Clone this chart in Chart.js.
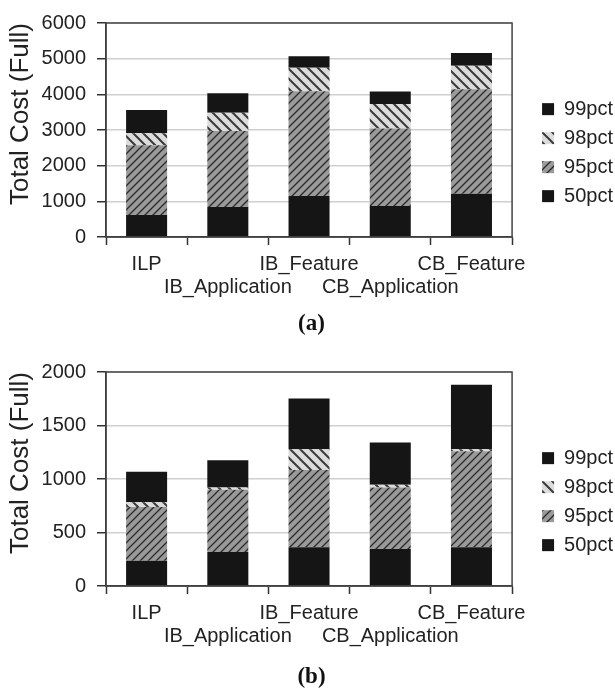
<!DOCTYPE html>
<html>
<head>
<meta charset="utf-8">
<script src="https://cdn.jsdelivr.net/npm/chart.js@4.4.1/dist/chart.umd.min.js"></script>
<style>
  body { margin: 0; background: #fff; }
  canvas { display: block; }
</style>
</head>
<body>
<canvas id="chartA" width="615" height="349"></canvas>
<canvas id="chartB" width="615" height="342"></canvas>
<script>
const categories = ['ILP', 'IB_Application', 'IB_Feature', 'CB_Application', 'CB_Feature'];
const seriesNames = ['50pct', '95pct', '98pct', '99pct'];

// (a) segment heights, stacked bottom to top
const aP50 = [620, 840, 1150, 870, 1210];
const aP95 = [1955, 2135, 2935, 2170, 2930];
const aP98 = [335, 510, 660, 690, 660];
const aP99 = [650, 545, 325, 350, 360];

// (b) segment heights
const bP50 = [235, 317, 363, 345, 363];
const bP95 = [503, 582, 722, 575, 896];
const bP98 = [45, 21, 192, 27, 18];
const bP99 = [284, 256, 475, 394, 604];

const aMax = 6000, aStep = 1000;
const bMax = 2000, bStep = 500;

Chart.defaults.font.family = '"Liberation Sans", Arial, sans-serif';

// hatch fills
function hatch(size, bg, fg, width, forward) {
  const tile = document.createElement('canvas');
  tile.width = size;
  tile.height = size;
  const c = tile.getContext('2d');
  c.fillStyle = bg;
  c.fillRect(0, 0, size, size);
  c.strokeStyle = fg;
  c.lineWidth = width;
  c.beginPath();
  if (forward) {
    c.moveTo(0, size); c.lineTo(size, 0);
    c.moveTo(-2, 2); c.lineTo(2, -2);
    c.moveTo(size - 2, size + 2); c.lineTo(size + 2, size - 2);
  } else {
    c.moveTo(0, 0); c.lineTo(size, size);
    c.moveTo(size - 2, -2); c.lineTo(size + 2, 2);
    c.moveTo(-2, size - 2); c.lineTo(2, size + 2);
  }
  c.stroke();
  return c.createPattern(tile, 'repeat');
}

const black = '#151515';
const fill95 = hatch(8, '#9a9a9a', '#2a2a2a', 1.3, true);
const fill98 = hatch(10, '#dcdcdc', '#3a3a3a', 2, false);
const fills = [black, fill95, fill98, black];

const frame = {
  id: 'frame',
  afterDraw(chart) {
    const { ctx, chartArea: a } = chart;
    ctx.save();
    ctx.strokeStyle = '#444';
    ctx.lineWidth = 1.5;
    ctx.strokeRect(a.left, a.top, a.right - a.left, a.bottom - a.top);
    ctx.restore();
  }
};

function makeChart(id, series, yMax, yStep, label, titlePad) {
  return new Chart(document.getElementById(id), {
    type: 'bar',
    data: {
      labels: categories,
      datasets: series.map((vals, i) => ({
        label: seriesNames[i],
        data: vals,
        backgroundColor: fills[i],
        borderWidth: 0,
        xAxisID: 'x',
        yAxisID: 'y',
        categoryPercentage: 1,
        barPercentage: 0.505
      }))
    },
    options: {
      responsive: false,
      animation: false,
      layout: { padding: { top: 18, right: -8, left: 0, bottom: 0 } },
      scales: {
        x: {
          stacked: true,
          grid: { drawOnChartArea: false, drawTicks: true, tickLength: 8, tickColor: '#333', tickWidth: 1.5, offset: true },
          border: { color: '#333', width: 1.5 },
          ticks: {
            autoSkip: false, maxRotation: 0, minRotation: 0, padding: 7.5,
            color: '#222', font: { size: 20, lineHeight: 1.17 },
            callback: function (value, index) {
              const name = this.getLabelForValue(value);
              return index % 2 ? ['', name] : name;
            }
          },
          afterFit: s => { s.height = 62; }
        },
        y: {
          stacked: true,
          min: 0,
          max: yMax,
          ticks: { stepSize: yStep, padding: 11, color: '#222', font: { size: 20 }, callback: v => String(v) },
          grid: { color: '#d0d0d0', lineWidth: 1.5, tickColor: '#333', tickLength: 9, tickWidth: 1.5 },
          border: { color: '#333', width: 1.5 },
          title: {
            display: true, text: 'Total Cost (Full)', align: 'end', color: '#222',
            font: { size: 26 }, padding: { top: 5, bottom: 0 }
          },
          afterFit: s => { s.width = 106; }
        },
        gap: {
          type: 'linear',
          position: 'right',
          display: true,
          grid: { display: false },
          ticks: { display: false },
          border: { display: false },
          afterFit: s => { s.width = 21; }
        }
      },
      plugins: {
        legend: {
          position: 'right',
          fullSize: false,
          reverse: true,
          labels: { boxWidth: 12, boxHeight: 12, padding: 9, color: '#222', font: { size: 20 } },
          title: { display: true, text: ' ', font: { size: 10, lineHeight: 1.2 }, padding: { top: 16.6, bottom: 16.7 } }
        },
        title: {
          display: true,
          text: label,
          position: 'bottom',
          color: '#111',
          font: { family: '"Liberation Serif", "Times New Roman", serif', size: 23, weight: 'bold', lineHeight: 1.2 },
          padding: titlePad
        },
        tooltip: { enabled: false }
      }
    },
    plugins: [frame]
  });
}

makeChart('chartA', [aP50, aP95, aP98, aP99], aMax, aStep, '(a)', { top: 11.2, bottom: 11.2 });
makeChart('chartB', [bP50, bP95, bP98, bP99], bMax, bStep, '(b)', { top: 15.4, bottom: 0 });
</script>
</body>
</html>
